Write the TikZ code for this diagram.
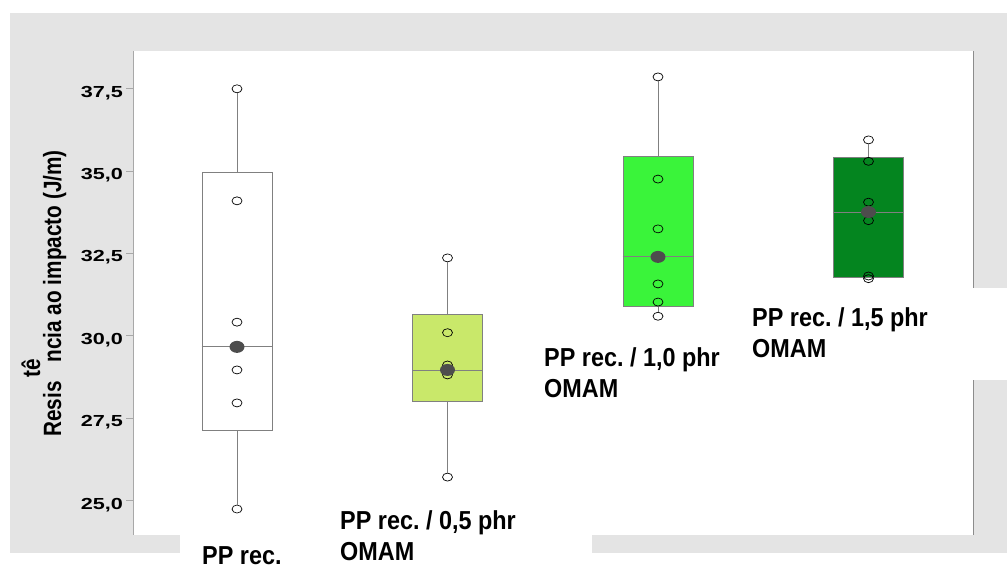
\documentclass[tikz,border=0pt]{standalone}
\usepackage{fontspec}
\setmainfont{Liberation Sans}
\newfontfamily\tickfont[FakeStretch=1.35]{Liberation Sans}
\newfontfamily\catfont[FakeStretch=0.9]{Liberation Sans}
\newfontfamily\ylabfont[FakeStretch=0.83]{Liberation Sans}
\usepackage{tikz}
\usetikzlibrary{shapes.geometric}
\frenchspacing
\definecolor{framegray}{HTML}{E4E4E4}
\definecolor{axisgray}{HTML}{A8A8A8}
\definecolor{edgegray}{HTML}{8C8C8C}
\definecolor{boxgray}{HTML}{808080}
\definecolor{meangray}{HTML}{4D4D4D}
\definecolor{limeA}{HTML}{C9E86A}
\definecolor{greenB}{HTML}{3AF43A}
\definecolor{greenC}{HTML}{04851F}
\pgfmathdeclarefunction{vy}{1}{\pgfmathparse{1324.8-32.96*#1}}
\tikzset{
    obs/.style = {ellipse, draw=black, line width=0.7pt, minimum width=10pt, minimum height=8pt, inner sep=0pt},
    meandot/.style = {ellipse, fill=meangray, minimum width=15pt, minimum height=12pt, inner sep=0pt},
    boxnode/.style = {rectangle, draw=boxgray, line width=1pt, minimum width=70pt, inner sep=0pt},
    whisker/.style = {draw=boxgray, line width=1pt},
    medline/.style = {draw=boxgray, line width=0.8pt},
    axisline/.style = {draw=axisgray, line width=1pt},
    ticklab/.style = {font=\tickfont\bfseries\fontsize{16}{18}\selectfont, inner sep=0pt, anchor=base east},
    catlab/.style = {font=\catfont\bfseries\fontsize{26}{31}\selectfont, align=left, inner sep=0pt, anchor=north west},
    ylab/.style = {font=\ylabfont\bfseries\fontsize{25}{28}\selectfont, inner sep=0pt, rotate=90, anchor=base west}
}
\pgfkeys{
 /boxPlot/.is family, /boxPlot,
 col/.estore in = \bpCol,
 q1/.estore in = \bpQa,
 q3/.estore in = \bpQc,
 med/.estore in = \bpMed,
 hi/.estore in = \bpHi,
 lo/.estore in = \bpLo,
 pts/.estore in = \bpPts,
 name/.estore in = \bpName,
 default/.style =
  {col=white, q1=0, q3=0, med=0, hi=0, lo={}, pts={}, name=defaultname}
}
\newcommand{\boxPlot}[2][]{
    \pgfkeys{/boxPlot, default, #1}%
    \node[boxnode, fill=\bpCol, minimum height={(\bpQc-\bpQa)*32.96}]
        (\bpName) at (#2, {vy((\bpQa+\bpQc)/2)}) {};
    \coordinate (\bpName_med) at (#2, {vy(\bpMed)});
    \draw[medline] (\bpName.west |- \bpName_med) -- (\bpName.east |- \bpName_med);
    \node[obs] (\bpName_hi) at (#2, {vy(\bpHi)}) {};
    \draw[whisker] (\bpName.north) -- (\bpName_hi);
    \ifx\bpLo\empty\else
        \node[obs] (\bpName_lo) at (#2, {vy(\bpLo)}) {};
        \draw[whisker] (\bpName.south) -- (\bpName_lo);
    \fi
    \foreach \v [count=\i] in \bpPts
        \node[obs] (\bpName_p\i) at (#2, {vy(\v)}) {};
    \node[meandot] (\bpName_mean) at (\bpName_med) {};
}

\begin{document}
\begin{tikzpicture}[x=1pt, y=-1pt]
    \useasboundingbox (0,0) rectangle (1007,569);
    \fill[framegray] (10,13) rectangle (1007,553);
    \fill[white] (133,51) rectangle (973,535);
    \fill[white] (180,535) rectangle (592,569);
    \fill[white] (700,288) rectangle (1007,380);
    \draw[axisline] (133,51) -- (133,535);
    \draw[draw=edgegray, line width=1pt] (973,51) -- (973,288);
    \draw[draw=edgegray, line width=1pt] (973,380) -- (973,535);

    \foreach \v [count=\i] in {25,27.5,30,32.5,35,37.5} {
        \draw[axisline] (126,{vy(\v)}) -- (133,{vy(\v)});
        \node[ticklab] (tick\i) at (123,{vy(\v)+8.3})
            {\pgfmathprintnumber[fixed,fixed zerofill,precision=1,use comma,assume math mode=true]{\v}};
    }

    \node[ylab] (ylab) at (61,437) {Resis\hspace{19pt}ncia ao impacto (J/m)};
    \node[ylab] (ylabte) at (40,378) {tê};

    \boxPlot[name=pp, q1=27.12, q3=34.95, med=29.67, hi=37.5, lo=24.75,
        pts={34.1,30.42,28.97,27.97}]{237}
    \boxPlot[name=ppA, col=limeA, q1=28.0, q3=30.64, med=28.97, hi=32.37, lo=25.72,
        pts={30.1,29.12,28.82}]{447.5}
    \boxPlot[name=ppB, col=greenB, q1=30.88, q3=35.46, med=32.4, hi=37.86, lo=30.6,
        pts={34.76,33.25,31.58,31.03}]{658}
    \boxPlot[name=ppC, col=greenC, q1=31.76, q3=35.43, med=33.76, hi=35.95,
        pts={35.3,34.06,33.5,31.82,31.74}]{868.5}

    \node[catlab] (pp_lab) at (202,546) {PP rec.};
    \node[catlab] (ppA_lab) at (340,510) {PP rec. / 0,5 phr\\OMAM};
    \node[catlab] (ppB_lab) at (544,347) {PP rec. / 1,0 phr\\OMAM};
    \node[catlab] (ppC_lab) at (752,307) {PP rec. / 1,5 phr\\OMAM};
\end{tikzpicture}
\end{document}
